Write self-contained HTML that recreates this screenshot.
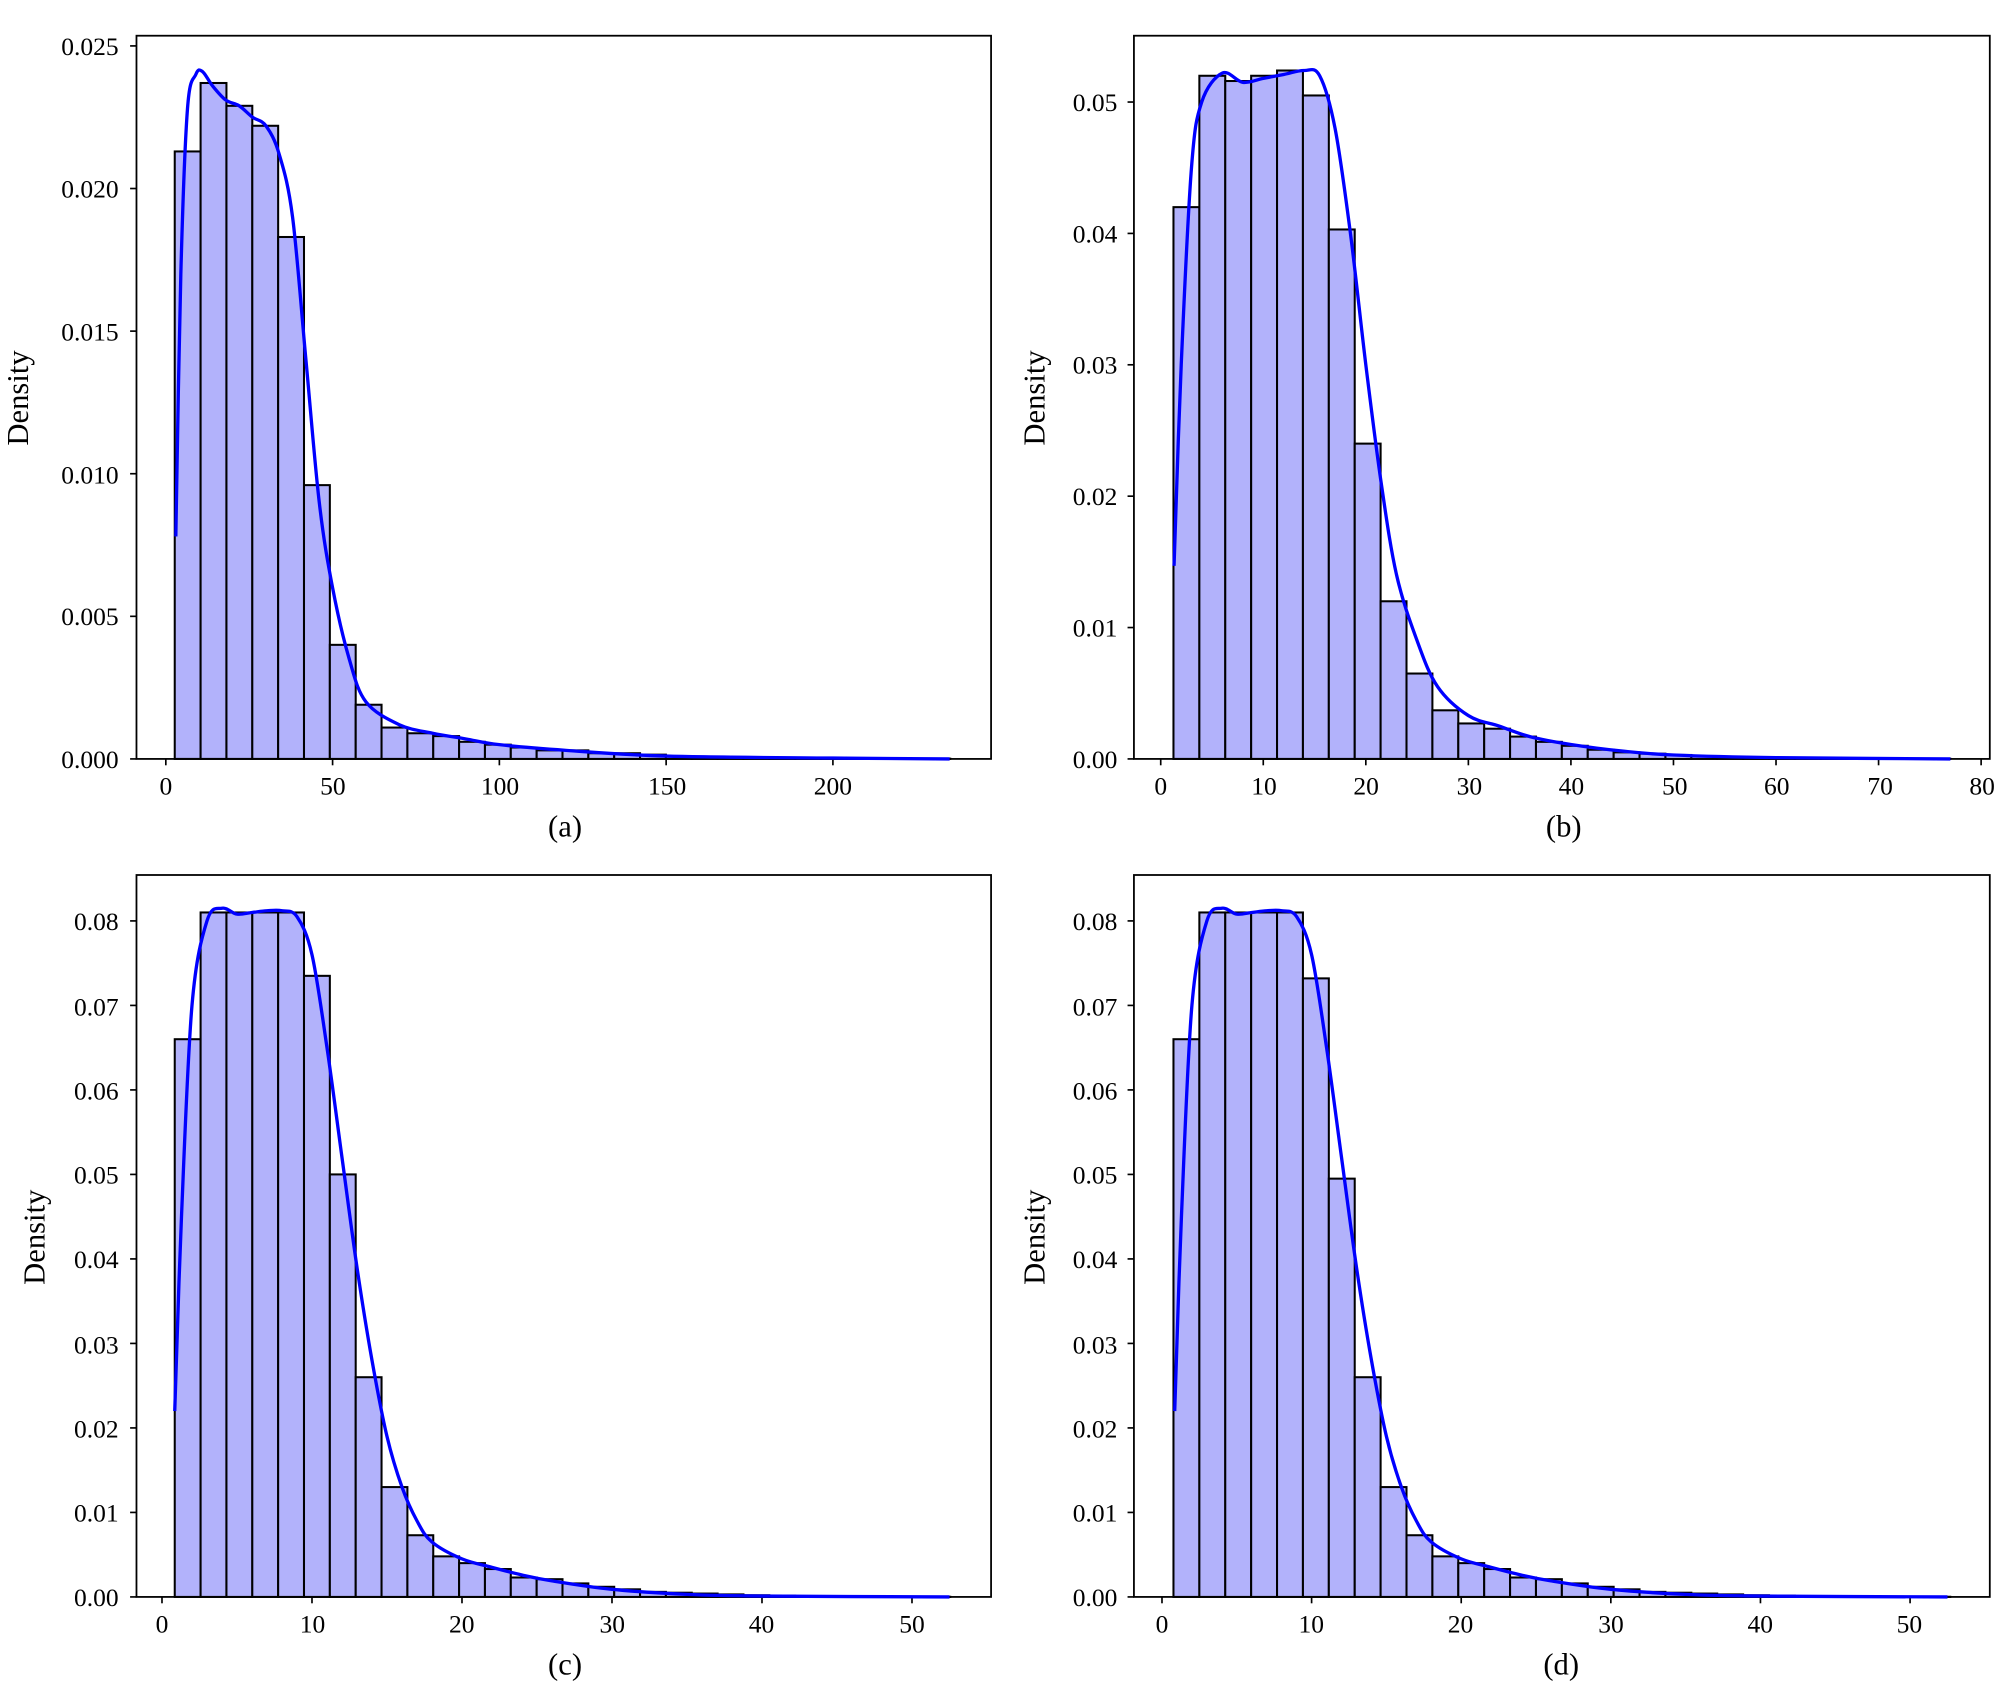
<!DOCTYPE html>
<html><head><meta charset="utf-8"><style>
html,body{margin:0;padding:0;background:#fff}
svg{display:block}
text{font-family:"Liberation Serif",serif;fill:#000}
.t{font-size:20px}
.l{font-size:24px}
</style></head><body>
<svg id="s" width="2000" height="1688" viewBox="0 0 1568 1323.4" preserveAspectRatio="none" xmlns="http://www.w3.org/2000/svg">
<rect width="1568" height="1324" fill="#fff"/>
<g id="bars"></g>
<g fill="none" stroke="#000" stroke-width="1.4">
<rect x="107" y="28" width="670" height="567"/>
<rect x="889" y="28" width="671" height="567"/>
<rect x="107" y="686" width="670" height="566"/>
<rect x="889" y="686" width="671" height="566"/>
</g>
<g id="ticks" stroke="#000" stroke-width="1.3"></g>
<g class="t" text-anchor="end">
<text x="93" y="43">0.025</text><text x="93" y="155">0.020</text><text x="93" y="267">0.015</text>
<text x="93" y="379">0.010</text><text x="93" y="490">0.005</text><text x="93" y="602">0.000</text>
<text x="876" y="87">0.05</text><text x="876" y="190">0.04</text><text x="876" y="293">0.03</text>
<text x="876" y="396">0.02</text><text x="876" y="499">0.01</text><text x="876" y="602">0.00</text>
<text x="93" y="729">0.08</text><text x="93" y="796">0.07</text><text x="93" y="862">0.06</text>
<text x="93" y="928">0.05</text><text x="93" y="994">0.04</text><text x="93" y="1061">0.03</text>
<text x="93" y="1127">0.02</text><text x="93" y="1193">0.01</text><text x="93" y="1259">0.00</text>
<text x="876" y="729">0.08</text><text x="876" y="796">0.07</text><text x="876" y="862">0.06</text>
<text x="876" y="928">0.05</text><text x="876" y="994">0.04</text><text x="876" y="1061">0.03</text>
<text x="876" y="1127">0.02</text><text x="876" y="1193">0.01</text><text x="876" y="1259">0.00</text>
</g>
<g class="t" text-anchor="middle">
<text x="130" y="623">0</text><text x="261" y="623">50</text><text x="392" y="623">100</text><text x="523" y="623">150</text><text x="653" y="623">200</text>
<text x="910" y="623">0</text><text x="991" y="623">10</text><text x="1071" y="623">20</text><text x="1152" y="623">30</text><text x="1232" y="623">40</text><text x="1313" y="623">50</text><text x="1393" y="623">60</text><text x="1474" y="623">70</text><text x="1554" y="623">80</text>
<text x="127" y="1280">0</text><text x="245" y="1280">10</text><text x="362" y="1280">20</text><text x="480" y="1280">30</text><text x="597" y="1280">40</text><text x="715" y="1280">50</text>
<text x="911" y="1280">0</text><text x="1028" y="1280">10</text><text x="1145" y="1280">20</text><text x="1263" y="1280">30</text><text x="1380" y="1280">40</text><text x="1497" y="1280">50</text>
</g>
<g class="l" text-anchor="middle">
<text x="443" y="656">(a)</text><text x="1226" y="656">(b)</text>
<text x="443" y="1313">(c)</text><text x="1224" y="1313">(d)</text>
<text transform="translate(22,312) rotate(-90)">Density</text>
<text transform="translate(819,312) rotate(-90)">Density</text>
<text transform="translate(35,970) rotate(-90)">Density</text>
<text transform="translate(819,970) rotate(-90)">Density</text>
</g>
<g id="curves" fill="none" stroke="#0000ff" stroke-width="2.6"></g>
</svg>
<script>
var NS="http://www.w3.org/2000/svg";
function el(p,t,a){var e=document.createElementNS(NS,t);for(var k in a)e.setAttribute(k,a[k]);document.getElementById(p).appendChild(e);}
var cd=[0.066,0.081,0.081,0.081,0.081,0.0735,0.050,0.026,0.013,0.0073,0.0048,0.0040,0.0033,0.0023,0.0021,0.0016,0.0012,0.0009,0.0006,0.0005,0.0004,0.0003,0.0002,0.00015,0.0001,0.00008,0.00005,0.00004,0.00003,0.00002];
var dd=cd.slice();dd[5]=0.0732;dd[6]=0.0495;
var P=[
{x0:130,sx:2.615,y0:595,sy:22360,bl:137,br:745,
 h:[0.0213,0.0237,0.0229,0.0222,0.0183,0.0096,0.0040,0.0019,0.0011,0.0009,0.0008,0.0006,0.0005,0.0004,0.0003,0.0003,0.0002,0.0002,0.00015,0.0001,0.00008,0.00006,0.00005,0.00004,0.00003,0.00002,0.00002,0.00001,0.00001,0.00001],
 k:[[3,0.0078],[4.5,0.017],[6.5,0.0228],[9,0.0240],[11,0.0241],[14,0.0236],[18,0.0231],[22,0.0229],[26,0.0225],[30,0.0222],[34,0.0212],[38,0.019],[42,0.014],[46,0.009],[50,0.006],[55,0.0035],[60,0.002],[70,0.0012],[80,0.0009],[90,0.0007],[100,0.0005],[120,0.0003],[150,0.0001],[200,0.00003],[235,0]],
 yt:[0,0.005,0.01,0.015,0.02,0.025],xt:[0,50,100,150,200],L:107},
{x0:910,sx:8.04,y0:595,sy:10300,bl:920,br:1529,
 h:[0.042,0.052,0.0516,0.052,0.0524,0.0505,0.0403,0.024,0.012,0.0065,0.0037,0.0027,0.0023,0.0017,0.0013,0.001,0.0007,0.0005,0.0004,0.0003,0.0002,0.00015,0.0001,0.00008,0.00006,0.00005,0.00004,0.00003,0.00002,0.00002],
 k:[[1.3,0.0147],[2,0.03],[3,0.045],[4,0.050],[6,0.0522],[8,0.0515],[10,0.0518],[12,0.0521],[14,0.0524],[15.5,0.052],[17,0.048],[18.5,0.04],[20,0.03],[21.5,0.021],[23,0.014],[25,0.009],[27,0.0055],[30,0.0033],[33,0.0025],[36,0.0017],[40,0.0011],[45,0.0006],[50,0.0003],[60,0.0001],[77,0]],
 yt:[0,0.01,0.02,0.03,0.04,0.05],xt:[0,10,20,30,40,50,60,70,80],L:889},
{x0:127,sx:11.76,y0:1252,sy:6625,bl:137,br:745,h:cd,yt:[0,.01,.02,.03,.04,.05,.06,.07,.08],xt:[0,10,20,30,40,50],L:107},
{x0:911,sx:11.73,y0:1252,sy:6625,bl:920,br:1529,h:dd,yt:[0,.01,.02,.03,.04,.05,.06,.07,.08],xt:[0,10,20,30,40,50],L:889}
];
var ck=[[0.85,0.022],[1.3,0.045],[2,0.07],[3,0.08],[4,0.0815],[5,0.0808],[6,0.081],[7,0.0812],[8,0.0812],[9,0.0805],[10,0.076],[11,0.065],[12,0.052],[13,0.039],[14,0.028],[15,0.019],[16,0.013],[17,0.009],[18,0.0065],[20,0.0045],[22,0.0035],[24,0.0026],[26,0.0019],[30,0.0009],[35,0.0003],[40,0.0001],[52.5,0]];
P[2].k=ck;P[3].k=ck;
P.forEach(function(p){
 var w=(p.br-p.bl)/30;
 p.h.forEach(function(h,i){var x=p.bl+i*w,hh=h*p.sy;
  el("bars","rect",{x:x,y:p.y0-hh,width:w,height:hh,fill:"#b2b2fb",stroke:"#000","stroke-width":1.6});});
 p.yt.forEach(function(v){var y=p.y0-v*p.sy;el("ticks","line",{x1:p.L-5,x2:p.L,y1:y,y2:y});});
 p.xt.forEach(function(v){var x=p.x0+v*p.sx;el("ticks","line",{x1:x,x2:x,y1:p.y0,y2:p.y0+5});});
 var pts=p.k.map(function(a){return [p.x0+a[0]*p.sx,p.y0-a[1]*p.sy];});
 var d="M"+pts[0][0]+","+pts[0][1];
 for(var i=0;i<pts.length-1;i++){
  var a=pts[Math.max(i-1,0)],b=pts[i],c=pts[i+1],e=pts[Math.min(i+2,pts.length-1)];
  var c1x=b[0]+(c[0]-a[0])/6,c1y=b[1]+(c[1]-a[1])/6,c2x=c[0]-(e[0]-b[0])/6,c2y=c[1]-(e[1]-b[1])/6;
  d+=" C"+c1x+","+c1y+" "+c2x+","+c2y+" "+c[0]+","+c[1];
 }
 el("curves","path",{d:d});
});
</script>
</body></html>
